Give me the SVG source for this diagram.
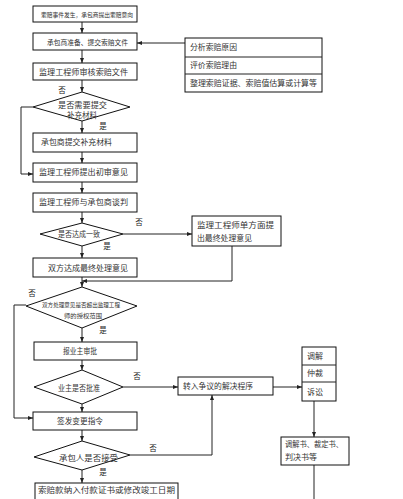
<svg xmlns="http://www.w3.org/2000/svg" width="403" height="499" viewBox="0 0 403 499">
<defs>
<marker id="ah" viewBox="0 0 10 10" refX="10" refY="5" markerWidth="5" markerHeight="5" orient="auto" markerUnits="userSpaceOnUse">
<path d="M0,1 L10,5 L0,9 z" fill="#222"/>
</marker>
<style>
.b{fill:#fff;stroke:#111;stroke-width:1}
.t{font-family:"Noto Sans CJK SC","Noto Sans",sans-serif;font-size:7.5px;fill:#333}
.l{font-family:"Noto Sans CJK SC","Noto Sans",sans-serif;font-size:7.5px;fill:#222}
.c{fill:none;stroke:#222;stroke-width:1}
</style>
</defs>
<rect width="403" height="499" fill="#fff"/>
<g id="connectors">
<line class="c" x1="82" y1="22" x2="82" y2="33" marker-end="url(#ah)"/>
<line class="c" x1="82" y1="50" x2="82" y2="63" marker-end="url(#ah)"/>
<line class="c" x1="82" y1="80" x2="82" y2="92" marker-end="url(#ah)"/>
<line class="c" x1="82" y1="121" x2="82" y2="133" marker-end="url(#ah)"/>
<line class="c" x1="82" y1="152" x2="82" y2="163" marker-end="url(#ah)"/>
<line class="c" x1="82" y1="182" x2="82" y2="193" marker-end="url(#ah)"/>
<line class="c" x1="82" y1="212" x2="82" y2="223" marker-end="url(#ah)"/>
<line class="c" x1="82" y1="246" x2="82" y2="258" marker-end="url(#ah)"/>
<line class="c" x1="82" y1="277" x2="82" y2="287" marker-end="url(#ah)"/>
<line class="c" x1="82" y1="328" x2="82" y2="342" marker-end="url(#ah)"/>
<line class="c" x1="82" y1="360" x2="82" y2="370" marker-end="url(#ah)"/>
<line class="c" x1="82" y1="404" x2="82" y2="412" marker-end="url(#ah)"/>
<line class="c" x1="82" y1="430" x2="82" y2="441" marker-end="url(#ah)"/>
<line class="c" x1="82" y1="470" x2="82" y2="483" marker-end="url(#ah)"/>
<line class="c" x1="185" y1="43" x2="137" y2="43" marker-end="url(#ah)"/>
<polyline class="c" points="33,107 21,107 21,174 33,174" marker-end="url(#ah)"/>
<line class="c" x1="123" y1="234" x2="192" y2="234" marker-end="url(#ah)"/>
<polyline class="c" points="232,246 232,281 82,281" marker-end="url(#ah)"/>
<polyline class="c" points="26,305 14,305 14,418 33,418" marker-end="url(#ah)"/>
<line class="c" x1="123" y1="387" x2="178" y2="387" marker-end="url(#ah)"/>
<polyline class="c" points="130,455 212,455 212,395" marker-end="url(#ah)"/>
<line class="c" x1="273" y1="387" x2="302" y2="387" marker-end="url(#ah)"/>
<line class="c" x1="314" y1="401" x2="314" y2="437" marker-end="url(#ah)"/>
<line class="c" x1="314" y1="465" x2="314" y2="499"/>
</g>
<g id="labels">
<text class="l" x="62" y="93" text-anchor="middle">否</text>
<text class="l" x="103" y="129" text-anchor="middle">是</text>
<text class="l" x="139" y="225" text-anchor="middle">否</text>
<text class="l" x="107" y="249" text-anchor="middle">是</text>
<text class="l" x="32" y="296" text-anchor="middle">否</text>
<text class="l" x="103" y="333" text-anchor="middle">是</text>
<text class="l" x="137" y="379" text-anchor="middle">否</text>
<text class="l" x="153" y="451" text-anchor="middle">否</text>
<text class="l" x="103" y="475" text-anchor="middle">是</text>
</g>
<g id="n1"><rect class="b" x="33" y="6" width="104" height="16"/><text class="t" x="41" y="16.5" textLength="92" lengthAdjust="spacingAndGlyphs" style="font-size:6.2px">索赔事件发生，承包商提出索赔意向</text></g>
<g id="n2"><rect class="b" x="33" y="33" width="104" height="17"/><text class="t" x="47" y="44.5" textLength="81" lengthAdjust="spacingAndGlyphs" style="font-size:6.8px">承包商准备、提交索赔文件</text></g>
<g id="n3"><rect class="b" x="33" y="63" width="104" height="17"/><text class="t" x="39" y="74.8" textLength="89" lengthAdjust="spacingAndGlyphs">监理工程师审核索赔文件</text></g>
<g id="d1"><polygon class="b" points="82,92 130,107 82,121 33,107"/><text class="t" x="58" y="107.8" textLength="49" lengthAdjust="spacingAndGlyphs">是否需要提交</text><text class="t" x="67" y="117.8" textLength="30" lengthAdjust="spacingAndGlyphs">补充材料</text></g>
<g id="n4"><rect class="b" x="33" y="133" width="104" height="19"/><text class="t" x="41" y="144.8" textLength="71" lengthAdjust="spacingAndGlyphs">承包商提交补充材料</text></g>
<g id="n5"><rect class="b" x="33" y="163" width="104" height="19"/><text class="t" x="39" y="174.8" textLength="89" lengthAdjust="spacingAndGlyphs">监理工程师提出初审意见</text></g>
<g id="n6"><rect class="b" x="33" y="193" width="104" height="19"/><text class="t" x="39" y="204.8" textLength="89" lengthAdjust="spacingAndGlyphs">监理工程师与承包商谈判</text></g>
<g id="d2"><polygon class="b" points="82,223 123,234 82,246 40,234"/><text class="t" x="58" y="237" textLength="42" lengthAdjust="spacingAndGlyphs">是否达成一致</text></g>
<g id="n7"><rect class="b" x="192" y="216" width="89" height="30"/><text class="t" x="197" y="227.8" textLength="77" lengthAdjust="spacingAndGlyphs">监理工程师单方面提</text><text class="t" x="197" y="240.8" textLength="55" lengthAdjust="spacingAndGlyphs">出最终处理意见</text></g>
<g id="n8"><rect class="b" x="33" y="258" width="104" height="19"/><text class="t" x="48" y="270.8" textLength="80" lengthAdjust="spacingAndGlyphs">双方达成最终处理意见</text></g>
<g id="d3"><polygon class="b" points="82,287 137,306 82,328 26,306"/><text class="t" x="42" y="307.3" textLength="78" lengthAdjust="spacingAndGlyphs" style="font-size:6.2px">双方处理意见是否超出监理工程</text><text class="t" x="64" y="318.3" textLength="38" lengthAdjust="spacingAndGlyphs" style="font-size:6.2px">师的授权范围</text></g>
<g id="n9"><rect class="b" x="34" y="342" width="103" height="18"/><text class="t" x="63" y="353.8" textLength="34" lengthAdjust="spacingAndGlyphs">报业主审批</text></g>
<g id="d4"><polygon class="b" points="82,370 123,387 82,404 34,387"/><text class="t" x="58" y="390.5" textLength="42" lengthAdjust="spacingAndGlyphs">业主是否批准</text></g>
<g id="n10"><rect class="b" x="178" y="377" width="95" height="18"/><text class="t" x="183" y="388.8" textLength="70" lengthAdjust="spacingAndGlyphs">转入争议的解决程序</text></g>
<g id="n11"><rect class="b" x="33" y="412" width="104" height="18"/><text class="t" x="57" y="423.5" textLength="46" lengthAdjust="spacingAndGlyphs">签发变更指令</text></g>
<g id="d5"><polygon class="b" points="82,441 130,455 82,470 34,457"/><text class="t" x="59" y="461" textLength="59" lengthAdjust="spacingAndGlyphs">承包人是否接受</text></g>
<g id="n12"><rect class="b" x="35" y="483" width="143" height="20"/><text class="t" x="38" y="493.3" textLength="137" lengthAdjust="spacingAndGlyphs">索赔款纳入付款证书或修改竣工日期</text></g>
<g id="t1"><rect class="b" x="185" y="38" width="137" height="54"/><line class="c" x1="185" y1="57" x2="322" y2="57"/><line class="c" x1="185" y1="74" x2="322" y2="74"/><text class="t" x="190" y="50.2" textLength="47" lengthAdjust="spacingAndGlyphs">分析索赔原因</text><text class="t" x="190" y="67.8" textLength="47" lengthAdjust="spacingAndGlyphs">评价索赔理由</text><text class="t" x="190" y="86.2" textLength="127" lengthAdjust="spacingAndGlyphs">整理索赔证据、索赔值估算或计算等</text></g>
<g id="t2"><rect class="b" x="302" y="347" width="34" height="54"/><line class="c" x1="302" y1="365" x2="336" y2="365"/><line class="c" x1="302" y1="382" x2="336" y2="382"/><text class="t" x="307" y="358.6" textLength="16" lengthAdjust="spacingAndGlyphs">调解</text><text class="t" x="307" y="376.3" textLength="16" lengthAdjust="spacingAndGlyphs">仲裁</text><text class="t" x="307" y="394.5" textLength="16" lengthAdjust="spacingAndGlyphs">诉讼</text></g>
<g id="n13"><rect class="b" x="281" y="437" width="68" height="28"/><text class="t" x="285" y="446.8" textLength="58" lengthAdjust="spacingAndGlyphs">调解书、裁定书、</text><text class="t" x="285" y="459.8" textLength="32" lengthAdjust="spacingAndGlyphs">判决书等</text></g>
</svg>
